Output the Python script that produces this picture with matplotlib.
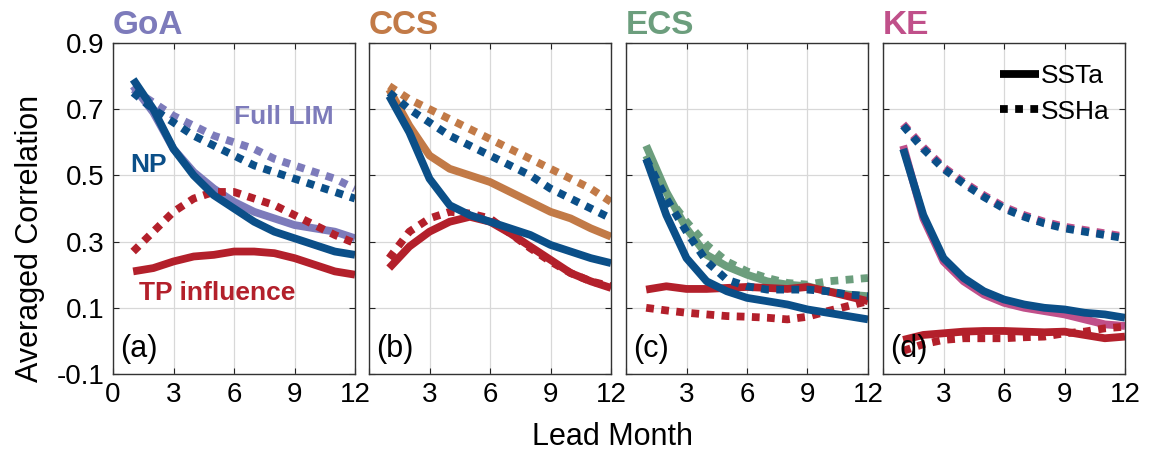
import matplotlib
matplotlib.use("Agg")
import matplotlib.pyplot as plt
from matplotlib.lines import Line2D
import numpy as np

plt.rcParams['font.family'] = ['Liberation Sans', 'DejaVu Sans']

lead = [1, 2, 3, 4, 5, 6, 7, 8, 9, 10, 11, 12]

regions = ["GoA", "CCS", "ECS", "KE"]
panel_tags = ["(a)", "(b)", "(c)", "(d)"]
region_colors = ["#7d7bbb", "#c27a47", "#6c9e7d", "#c0508a"]

# Full LIM (regional color)
full_sst = {
    "GoA": [0.77, 0.69, 0.58, 0.51, 0.46, 0.42, 0.39, 0.37, 0.35, 0.34, 0.33, 0.31],
    "CCS": [0.76, 0.65, 0.56, 0.52, 0.50, 0.48, 0.45, 0.42, 0.39, 0.37, 0.34, 0.315],
    "ECS": [0.59, 0.45, 0.34, 0.26, 0.225, 0.20, 0.18, 0.17, 0.165, 0.15, 0.14, 0.135],
    "KE":  [0.59, 0.37, 0.24, 0.18, 0.14, 0.115, 0.10, 0.09, 0.08, 0.065, 0.05, 0.045],
}
full_ssh = {
    "GoA": [0.76, 0.72, 0.68, 0.65, 0.62, 0.60, 0.58, 0.55, 0.53, 0.51, 0.49, 0.46],
    "CCS": [0.77, 0.73, 0.70, 0.67, 0.64, 0.61, 0.58, 0.55, 0.52, 0.49, 0.46, 0.42],
    "ECS": [0.56, 0.44, 0.36, 0.29, 0.24, 0.21, 0.19, 0.175, 0.17, 0.18, 0.185, 0.19],
    "KE":  [0.655, 0.585, 0.525, 0.48, 0.44, 0.405, 0.38, 0.36, 0.345, 0.335, 0.325, 0.315],
}
# NP influence (blue)
np_sst = {
    "GoA": [0.79, 0.70, 0.58, 0.50, 0.44, 0.40, 0.36, 0.33, 0.31, 0.29, 0.27, 0.26],
    "CCS": [0.74, 0.63, 0.49, 0.41, 0.38, 0.36, 0.34, 0.32, 0.29, 0.27, 0.25, 0.235],
    "ECS": [0.55, 0.38, 0.25, 0.18, 0.15, 0.13, 0.12, 0.11, 0.095, 0.085, 0.075, 0.065],
    "KE":  [0.58, 0.38, 0.25, 0.19, 0.15, 0.125, 0.11, 0.10, 0.095, 0.085, 0.08, 0.07],
}
np_ssh = {
    "GoA": [0.75, 0.70, 0.66, 0.62, 0.59, 0.56, 0.53, 0.51, 0.49, 0.47, 0.45, 0.43],
    "CCS": [0.75, 0.70, 0.66, 0.62, 0.59, 0.56, 0.53, 0.50, 0.46, 0.43, 0.40, 0.37],
    "ECS": [0.55, 0.43, 0.33, 0.24, 0.185, 0.165, 0.155, 0.155, 0.155, 0.15, 0.14, 0.135],
    "KE":  [0.65, 0.58, 0.52, 0.475, 0.435, 0.40, 0.375, 0.355, 0.34, 0.33, 0.32, 0.31],
}
# TP influence (red)
tp_sst = {
    "GoA": [0.21, 0.22, 0.24, 0.255, 0.26, 0.27, 0.27, 0.265, 0.25, 0.23, 0.21, 0.20],
    "CCS": [0.22, 0.285, 0.33, 0.36, 0.375, 0.36, 0.325, 0.285, 0.245, 0.205, 0.18, 0.16],
    "ECS": [0.155, 0.165, 0.157, 0.157, 0.16, 0.163, 0.16, 0.157, 0.163, 0.15, 0.135, 0.12],
    "KE":  [0.003, 0.018, 0.023, 0.028, 0.03, 0.03, 0.028, 0.026, 0.028, 0.018, 0.008, 0.013],
}
tp_ssh = {
    "GoA": [0.27, 0.33, 0.39, 0.43, 0.45, 0.45, 0.43, 0.41, 0.38, 0.35, 0.32, 0.295],
    "CCS": [0.25, 0.33, 0.37, 0.39, 0.385, 0.37, 0.325, 0.28, 0.24, 0.205, 0.18, 0.165],
    "ECS": [0.10, 0.092, 0.085, 0.08, 0.075, 0.073, 0.07, 0.065, 0.073, 0.09, 0.105, 0.12],
    "KE":  [-0.03, -0.01, 0.003, 0.008, 0.008, 0.008, 0.011, 0.013, 0.023, 0.028, 0.038, 0.043],
}

yticks = [-0.1, 0.1, 0.3, 0.5, 0.7, 0.9]
xticks = [0, 3, 6, 9, 12]

NP_BLUE = "#0b4f88"
TP_RED = "#b3202b"
LW = 5.6
DOT = (0, (1.0, 0.95))

fig = plt.figure(figsize=(11.53, 4.61), dpi=100)
lefts = [113, 369, 626, 883]
W, H = 242, 331
bottom_px = 374

axes = []
for i, reg in enumerate(regions):
    ax = fig.add_axes([lefts[i] / 1153, (461 - bottom_px) / 461, W / 1153, H / 461])
    axes.append(ax)
    rc = region_colors[i]
    ax.plot(lead, full_ssh[reg], color=rc, lw=LW, ls=DOT, dash_capstyle='butt')
    ax.plot(lead, full_sst[reg], color=rc, lw=LW, solid_capstyle='butt')
    ax.plot(lead, tp_ssh[reg], color=TP_RED, lw=LW, ls=DOT, dash_capstyle='butt')
    ax.plot(lead, tp_sst[reg], color=TP_RED, lw=LW, solid_capstyle='butt')
    ax.plot(lead, np_ssh[reg], color=NP_BLUE, lw=LW, ls=DOT, dash_capstyle='butt')
    ax.plot(lead, np_sst[reg], color=NP_BLUE, lw=LW, solid_capstyle='butt')

    ax.set_xlim(0, 12)
    ax.set_ylim(-0.1, 0.9)
    ax.set_yticks(yticks)
    ax.set_xticks(xticks)
    ax.grid(True, color="#d8d8d8", lw=0.9)
    ax.set_axisbelow(True)
    ax.tick_params(direction='in', length=4, width=0.8, labelsize=20, pad=6,
                   top=True, right=True, colors="#222222", labelcolor="black")
    for s in ax.spines.values():
        s.set_color("#333333")
        s.set_linewidth(1.0)
    if i == 0:
        ax.set_yticklabels(["-0.1", "0.1", "0.3", "0.5", "0.7", "0.9"])
        ax.set_xticklabels(["0", "3", "6", "9", "12"])
    else:
        ax.set_yticklabels([])
        ax.set_xticklabels(["", "3", "6", "9", "12"])
    ax.text(0.0, 1.005, reg, transform=ax.transAxes, ha='left', va='bottom',
            fontsize=24, fontweight='bold', color=rc)
    ax.text(0.03, 0.03, panel_tags[i], transform=ax.transAxes, ha='left', va='bottom',
            fontsize=22, color='black')

# annotations in panel (a)
axa = axes[0]
axa.text(6.0, 0.675, "Full LIM", color=region_colors[0], fontsize=19, fontweight='bold',
         ha='left', va='center')
axa.text(0.85, 0.53, "NP", color=NP_BLUE, fontsize=19, fontweight='bold',
         ha='left', va='center')
axa.text(1.3, 0.145, "TP influence", color=TP_RED, fontsize=19, fontweight='bold',
         ha='left', va='center')

# legend in panel (d)
handles = [Line2D([0], [0], color='black', lw=LW, solid_capstyle='butt'),
           Line2D([0], [0], color='black', lw=LW, ls=DOT, dash_capstyle='butt')]
leg = axes[3].legend(handles, ["SSTa", "SSHa"], loc='upper right', frameon=False,
                     fontsize=19, handlelength=1.5, handletextpad=0.05,
                     borderaxespad=0.2, labelspacing=0.45,
                     bbox_to_anchor=(1.0, 0.985))

fig.text(30 / 1153, 1 - 238 / 461, "Averaged Correlation", rotation=90, ha='center', va='center',
         fontsize=22)
fig.text(612 / 1153, 1 - 437 / 461, "Lead Month", ha='center', va='center', fontsize=22)

fig.savefig("out.png", dpi=100)
